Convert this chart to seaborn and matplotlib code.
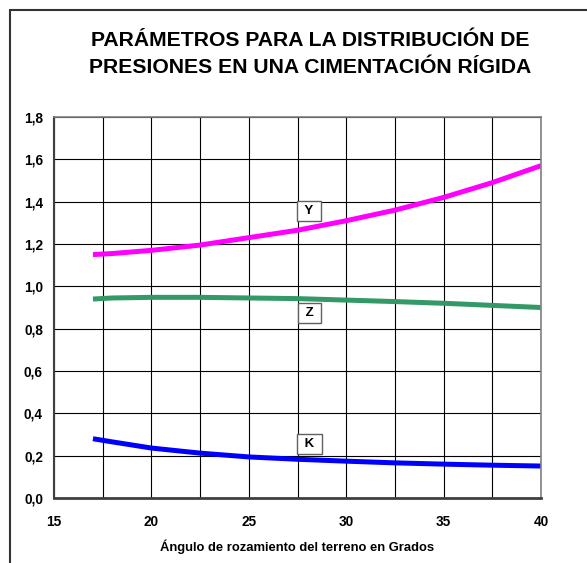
import matplotlib
matplotlib.use("Agg")
import matplotlib.pyplot as plt
import seaborn as sns
import pandas as pd
from matplotlib.ticker import FuncFormatter, MultipleLocator
from matplotlib.patches import Rectangle

angles = [17, 18, 20, 22.5, 25, 27.5, 30, 32.5, 35, 37.5, 40]
y_vals = [1.15, 1.155, 1.17, 1.195, 1.23, 1.265, 1.31, 1.36, 1.42, 1.49, 1.57]
z_vals = [0.94, 0.945, 0.948, 0.948, 0.945, 0.942, 0.935, 0.928, 0.92, 0.91, 0.90]
k_vals = [0.28, 0.265, 0.236, 0.212, 0.194, 0.183, 0.174, 0.166, 0.16, 0.155, 0.151]
series_names = ["Y", "Z", "K"]
colors = ["#FF00FF", "#339966", "#0000FF"]
label_pos = {"Y": (28.1, 1.355), "Z": (28.1, 0.875), "K": (28.1, 0.255)}

title = "PARÁMETROS PARA LA DISTRIBUCIÓN DE\nPRESIONES EN UNA CIMENTACIÓN RÍGIDA"
xlabel = "Ángulo de rozamiento del terreno en Grados"

df = pd.DataFrame({
    "angle": angles * 3,
    "value": y_vals + z_vals + k_vals,
    "serie": [s for s in series_names for _ in angles],
})

sns.set_style("white")
plt.rcParams["font.family"] = ["Liberation Sans", "DejaVu Sans"]
plt.rcParams["text.color"] = "black"
plt.rcParams["xtick.color"] = "black"
plt.rcParams["ytick.color"] = "black"
plt.rcParams["axes.labelcolor"] = "black"

fig = plt.figure(figsize=(5.87, 5.63), dpi=100)
ax = fig.add_axes([54 / 587, 1 - 498 / 563, (541 - 54) / 587, (498 - 117) / 563])

sns.lineplot(data=df, x="angle", y="value", hue="serie", palette=colors,
             hue_order=series_names, linewidth=3.6, legend=False, ax=ax,
             solid_capstyle="butt")

ax.set_xlim(15, 40)
ax.set_ylim(0, 1.8)
ax.xaxis.set_major_locator(MultipleLocator(5))
ax.xaxis.set_minor_locator(MultipleLocator(2.5))
ax.yaxis.set_major_locator(MultipleLocator(0.2))
ax.yaxis.set_major_formatter(FuncFormatter(lambda v, p: f"{v:.1f}".replace(".", ",")))
ax.grid(True, which="both", axis="x", color="black", linewidth=0.8)
ax.grid(True, which="major", axis="y", color="black", linewidth=0.8)
ax.set_axisbelow(True)

for side in ["top", "right"]:
    ax.spines[side].set_color("#808080")
    ax.spines[side].set_linewidth(1.2)
ax.spines["left"].set_color("#404040")
ax.spines["left"].set_linewidth(1.5)
ax.spines["bottom"].set_color("#404040")
ax.spines["bottom"].set_linewidth(2)

ax.tick_params(axis="both", which="major", direction="out", length=4, width=1,
               color="#404040", labelsize=9.8, labelcolor="black")
ax.tick_params(axis="x", which="major", pad=8)
ax.tick_params(axis="y", which="major", pad=4)
ax.tick_params(axis="x", which="minor", length=0)
for lbl in ax.get_xticklabels() + ax.get_yticklabels():
    lbl.set_fontweight("bold")
ax.set_xlabel(xlabel, fontsize=9.4, fontweight="bold", labelpad=8, color="black")
ax.set_ylabel("")

for name in series_names:
    x, y = label_pos[name]
    ax.text(x, y, f" {name} ", ha="center", va="center", fontsize=9.5,
            fontweight="bold", color="black",
            bbox=dict(boxstyle="square,pad=0.3", fc="white", ec="#606060", lw=1))

fig.text(310 / 587, 1 - 54 / 563, title, ha="center", va="center",
         fontsize=15.2, fontweight="bold", linespacing=1.55, color="black")

fig.patches.append(Rectangle((10 / 587, -0.05), 1.2, 1 - 10 / 563 + 0.05,
                             transform=fig.transFigure, fill=False,
                             ec="#333333", lw=1.5))

fig.savefig("out.png", dpi=100)
